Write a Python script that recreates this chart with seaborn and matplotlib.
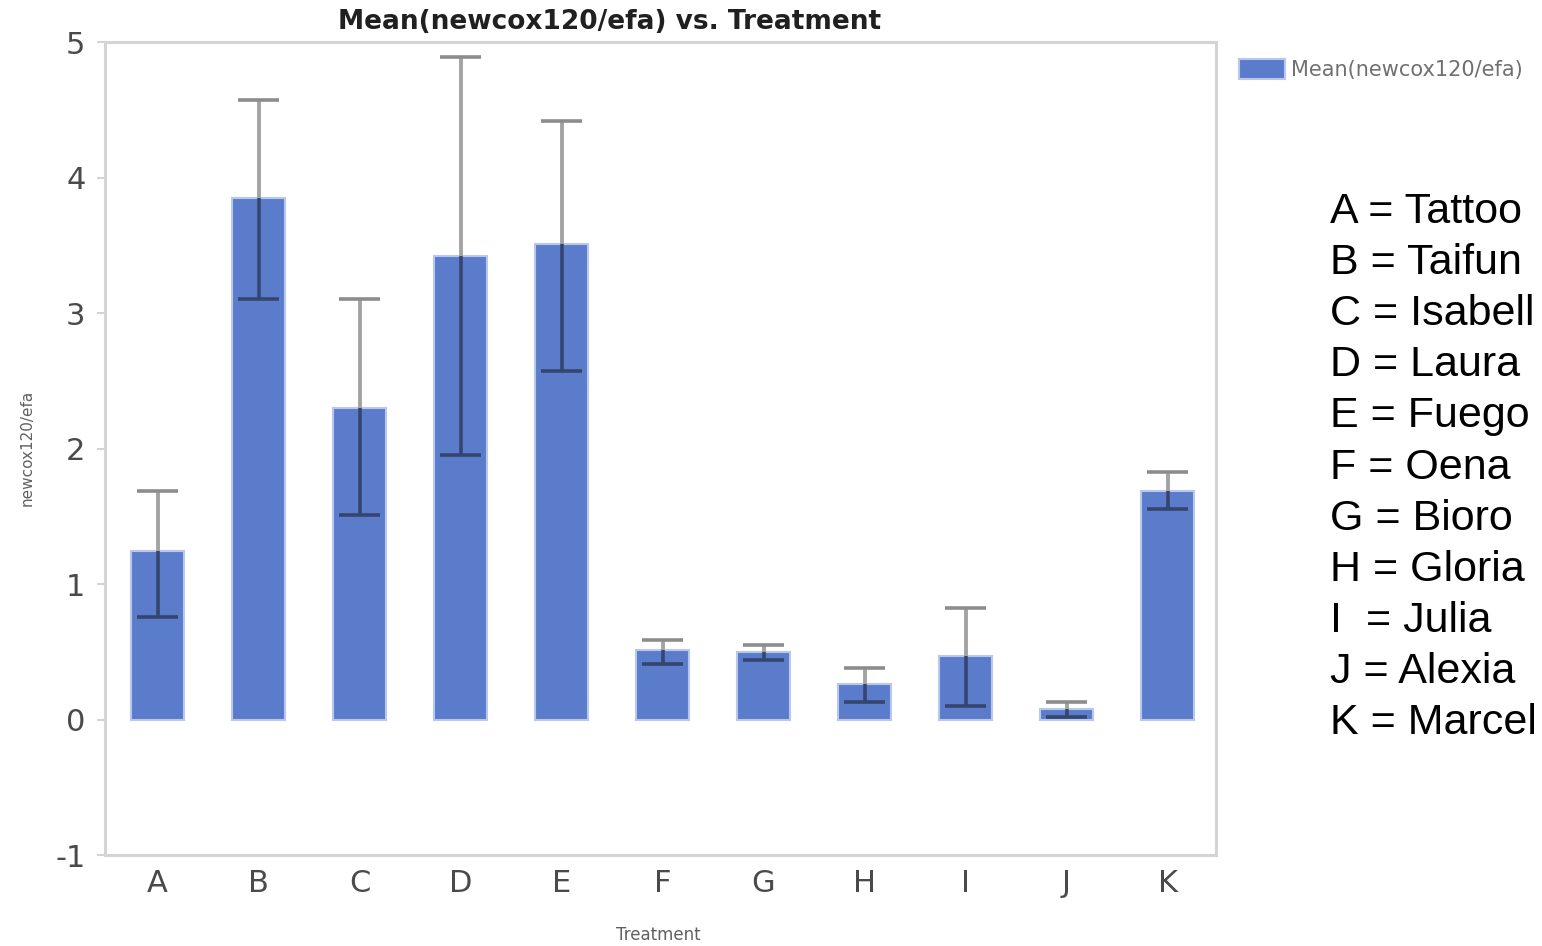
import matplotlib
matplotlib.use("Agg")
import matplotlib.pyplot as plt
import seaborn as sns
import pandas as pd
import numpy as np
from matplotlib.patches import Patch

categories = ["A", "B", "C", "D", "E", "F", "G", "H", "I", "J", "K"]
means = [1.24, 3.85, 2.30, 3.42, 3.51, 0.51, 0.50, 0.26, 0.47, 0.08, 1.69]
err_high = [1.69, 4.57, 3.10, 4.89, 4.42, 0.59, 0.55, 0.38, 0.82, 0.13, 1.83]
err_low = [0.76, 3.10, 1.51, 1.95, 2.57, 0.41, 0.44, 0.13, 0.10, 0.02, 1.55]
names = ["A = Tattoo", "B = Taifun", "C = Isabell", "D = Laura", "E = Fuego",
         "F = Oena", "G = Bioro", "H = Gloria", "I  = Julia", "J = Alexia",
         "K = Marcel"]
yticks = [-1, 0, 1, 2, 3, 4, 5]

df = pd.DataFrame({"Treatment": categories, "Mean": means})

sns.set_theme(style="white")
plt.rcParams["font.family"] = ["DejaVu Sans"]

fig = plt.figure(figsize=(15.42, 9.46), dpi=100)
ax = fig.add_axes([105 / 1542, 1 - 855 / 946, (1216 - 105) / 1542, (855 - 42) / 946])

bar_color = "#5a7cca"
sns.barplot(data=df, x="Treatment", y="Mean", color=bar_color, width=0.52,
            edgecolor="#b9c7ec", linewidth=1.5, saturation=1, ax=ax, errorbar=None)

gray = "#a3a3a3"
dark = "#34466f"
cap = 0.2
for i, (m, hi, lo) in enumerate(zip(means, err_high, err_low)):
    ax.vlines(i, m, hi, color=gray, lw=2.8, zorder=3)
    ax.vlines(i, lo, min(m, hi), color=dark, lw=2.6, zorder=3)
    ax.hlines(hi, i - cap, i + cap, color="#8c8c8c" if hi > m else dark, lw=2.6, zorder=3)
    ax.hlines(lo, i - cap, i + cap, color=dark, lw=2.6, zorder=3)

ax.set_ylim(-1.0, 5.0)
ax.set_xlim(-0.52, 10.48)
ax.set_yticks(yticks)
ax.set_yticklabels([str(t) for t in yticks])
for s in ax.spines.values():
    s.set_color("#d4d4d4")
    s.set_linewidth(2.2)
ax.tick_params(axis="y", left=True, length=6, width=1.5, color="#d4d4d4",
               labelsize=22, labelcolor="#4a4a4a", pad=8)
ax.tick_params(axis="x", bottom=False, labelsize=22, labelcolor="#4a4a4a", pad=4)
ax.set_xlabel("")
ax.set_ylabel("")

fig.text(610 / 1542, 1 - 22 / 946, "Mean(newcox120/efa) vs. Treatment",
         ha="center", va="center", fontsize=19, fontweight="bold", color="#202020")
fig.text(27 / 1542, 1 - 448 / 946, "newcox120/efa", rotation=90, ha="center",
         va="center", fontsize=11, color="#606060")
fig.text(658 / 1542, 1 - 935 / 946, "Treatment", ha="center", va="center",
         fontsize=12, color="#606060")

handle = Patch(facecolor=bar_color, edgecolor="#b9c7ec", linewidth=1.5)
fig.legend([handle], ["Mean(newcox120/efa)"], loc="upper left",
           bbox_to_anchor=(1220 / 1542, 1 - 40 / 946), frameon=False,
           handlelength=2.2, handleheight=1.1, handletextpad=0.3,
           prop={"size": 15}, labelcolor="#707070")

for k, nm in enumerate(names):
    fig.text(1330 / 1542, 1 - (212 + 51.1 * k) / 946, nm, ha="left", va="center",
             fontsize=31, family="Liberation Sans", color="black")

fig.savefig("out.png", dpi=100, facecolor="white")
